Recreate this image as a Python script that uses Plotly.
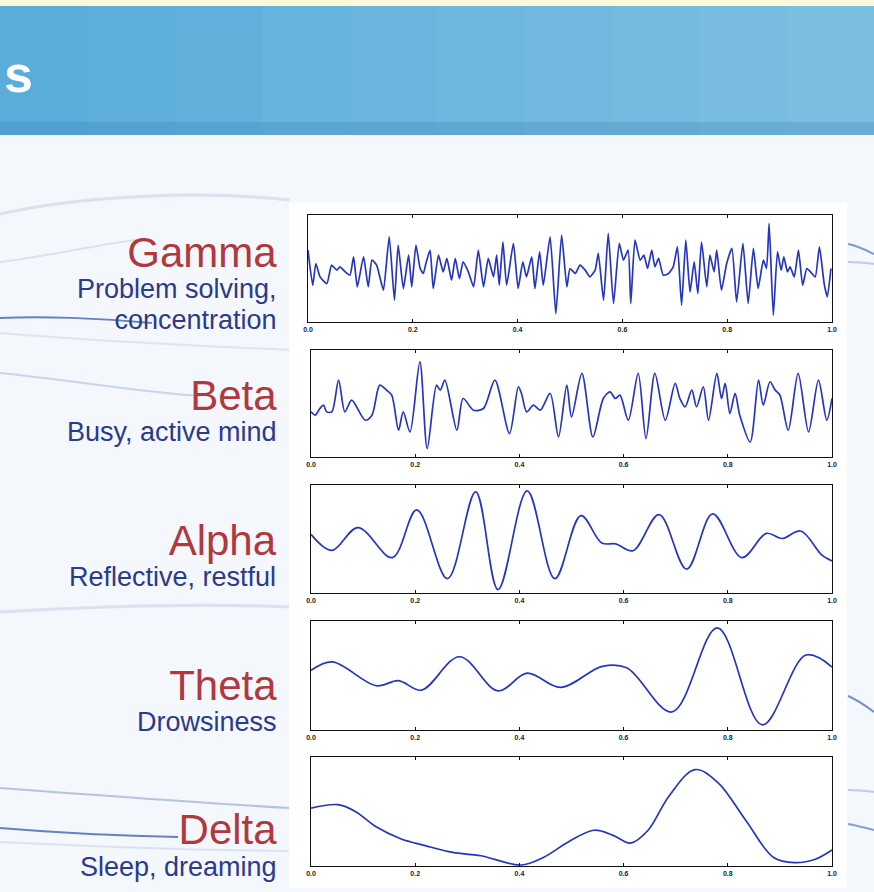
import plotly.graph_objects as go

W, H = 874, 892

# ---------------- data ----------------
tick_vals = [0.0, 0.2, 0.4, 0.6, 0.8, 1.0]
tick_text = ["0.0", "0.2", "0.4", "0.6", "0.8", "1.0"]

band_names = ["Gamma", "Beta", "Alpha", "Theta", "Delta"]
band_notes = [["Problem solving,", "concentration"], ["Busy, active mind"],
              ["Reflective, restful"], ["Drowsiness"], ["Sleep, dreaming"]]

gamma_t = [0.000, 0.009, 0.015, 0.023, 0.036, 0.045, 0.055, 0.061, 0.071, 0.080, 0.087, 0.094, 0.106, 0.115,
           0.122, 0.131, 0.137, 0.144, 0.155, 0.165, 0.172, 0.182, 0.192, 0.198, 0.206, 0.214, 0.220, 0.225,
           0.233, 0.239, 0.249, 0.258, 0.265, 0.274, 0.281, 0.289, 0.296, 0.306, 0.316, 0.325, 0.335, 0.344,
           0.354, 0.360, 0.365, 0.372, 0.379, 0.392, 0.401, 0.410, 0.417, 0.427, 0.433, 0.442, 0.449, 0.462,
           0.473, 0.484, 0.494, 0.500, 0.510, 0.519, 0.529, 0.538, 0.548, 0.554, 0.564, 0.573, 0.583, 0.594,
           0.602, 0.611, 0.616, 0.624, 0.634, 0.641, 0.648, 0.656, 0.662, 0.669, 0.678, 0.688, 0.697, 0.705,
           0.713, 0.721, 0.729, 0.737, 0.744, 0.751, 0.761, 0.767, 0.775, 0.780, 0.789, 0.799, 0.809, 0.818,
           0.830, 0.840, 0.850, 0.859, 0.869, 0.875, 0.880, 0.888, 0.896, 0.903, 0.908, 0.915, 0.920, 0.928,
           0.936, 0.944, 0.952, 0.959, 0.968, 0.976, 0.985, 0.991, 0.998]
gamma_v = [65, -40, 25, -15, -35, 20, 5, 15, 0, -10, 45, -45, 45, -45,
           35, 20, -15, -55, 105, -85, 80, -50, 50, -45, 80, 10, -5, 25,
           65, -50, 50, 0, 40, -25, 40, -20, 30, 0, -45, 65, -45, 40,
           -15, 50, -40, 90, -40, 85, -50, 30, -15, 45, -50, 60, -40, 105,
           -125, 110, -45, 10, -5, 20, 5, -15, 5, 55, -85, 115, -95, 85,
           35, 65, -95, 95, 35, 50, 10, 65, 15, 40, -10, -5, 15, 75,
           -100, 95, -60, 30, -65, 90, -45, 50, 0, 65, -55, 25, 70, -90,
           85, -95, 70, -50, 35, 10, 145, -130, 60, 5, 45, 0, 15, -15,
           65, -40, 10, 0, -15, 75, -35, -75, 10]

beta_t = [0.000, 0.008, 0.017, 0.024, 0.030, 0.040, 0.053, 0.065, 0.078, 0.104, 0.117, 0.132, 0.145, 0.155,
          0.168, 0.177, 0.190, 0.209, 0.223, 0.241, 0.248, 0.257, 0.280, 0.292, 0.312, 0.331, 0.353, 0.381,
          0.398, 0.404, 0.414, 0.427, 0.440, 0.459, 0.475, 0.491, 0.500, 0.520, 0.541, 0.561, 0.574, 0.584,
          0.593, 0.609, 0.628, 0.643, 0.660, 0.680, 0.699, 0.708, 0.718, 0.731, 0.740, 0.753, 0.763, 0.779,
          0.788, 0.795, 0.804, 0.814, 0.823, 0.843, 0.859, 0.868, 0.881, 0.891, 0.900, 0.916, 0.935, 0.955,
          0.974, 0.990, 1.000]
beta_v = [-5, -15, 5, 15, -5, -5, 90, -5, 30, -30, -15, 75, 60, 45,
          -60, -5, -65, 145, -115, 75, 60, 90, -60, 35, 0, 5, 90, -70,
          70, 50, -5, 15, 0, 50, -80, 75, -20, 110, -80, 35, 55, 35,
          45, -30, 110, -85, 110, -30, 80, 35, 10, 60, 10, 70, -30, 110,
          35, 80, -10, 50, -15, -95, 90, 15, 85, 60, 45, -60, 110, -65,
          90, -30, 35]

alpha_t = [0.0, 0.040, 0.090, 0.156, 0.203, 0.262, 0.316, 0.359, 0.415, 0.468, 0.518, 0.558,
           0.585, 0.618, 0.668, 0.721, 0.771, 0.827, 0.874, 0.904, 0.940, 0.980, 1.0]
alpha_v = [20, -27, 40, -48, 92, -110, 145, -142, 148, -110, 75, -5,
           -8, -28, 78, -82, 80, -48, 23, 8, 30, -40, -58]

theta_t = [0.0, 0.041, 0.125, 0.168, 0.212, 0.285, 0.359, 0.415, 0.479, 0.559, 0.606, 0.693,
           0.780, 0.866, 0.950, 1.0]
theta_v = [15, 40, -30, -15, -43, 55, -45, 7, -35, 27, 23, -107, 140, -145, 60, 25]

delta_t = [0.0, 0.052, 0.085, 0.125, 0.172, 0.219, 0.272, 0.326, 0.403, 0.446, 0.493, 0.543,
           0.580, 0.613, 0.647, 0.687, 0.737, 0.781, 0.834, 0.888, 0.928, 0.968, 1.0]
delta_v = [15, 25, 5, -40, -75, -95, -115, -125, -152, -130, -85, -50,
           -65, -88, -50, 50, 128, 90, -20, -130, -145, -135, -108]

series_t = [gamma_t, beta_t, alpha_t, theta_t, delta_t]
series_v = [gamma_v, beta_v, alpha_v, theta_v, delta_v]
y_ranges = [[-150, 170], [-140, 180], [-152, 165], [-160, 160], [-155, 165]]
smooth = [0.5, 0.8, 1.0, 1.0, 1.0]

# ---------------- layout geometry (pixels) ----------------
panel_left = [308, 311, 311, 311, 311]
panel_right = 832
panel_top = [215, 350, 485, 621, 757]
panel_bottom = [322, 457, 593, 730, 866]
label_top = [227, 370, 515, 660, 804]       # top of each label block
line_em = [24, 24, 24, 24, 24.5]            # base size setting the line spacing
text_right = 279
TITLE_COL, NOTE_COL = "#b0393e", "#2c3a8c"


def px(x):
    return x / W


def py(y):
    return 1 - y / H


fig = go.Figure()
layout = dict(
    width=W, height=H,
    margin=dict(l=0, r=0, t=0, b=0, pad=0, autoexpand=False),
    paper_bgcolor="#f4f7fb",
    plot_bgcolor="white",
    showlegend=False,
    font=dict(family="Liberation Sans, Arial, sans-serif"),
)

for i in range(5):
    k = "" if i == 0 else str(i + 1)
    fig.add_trace(go.Scatter(
        x=series_t[i], y=series_v[i], mode="lines",
        xaxis="x" + k, yaxis="y" + k,
        line=dict(color="#2636bc", width=1.7, shape="spline", smoothing=smooth[i]),
        hoverinfo="skip",
    ))
    layout["xaxis" + k] = dict(
        domain=[px(panel_left[i]), px(panel_right)], anchor="y" + k,
        range=[0, 1], tickmode="array", tickvals=tick_vals, ticktext=tick_text,
        showgrid=False, zeroline=False, showline=True, linecolor="#111", linewidth=1.3,
        mirror="ticks", ticks="inside", ticklen=3, tickcolor="#111", tickwidth=1,
        tickfont=dict(size=7, color="#222", weight="bold"), automargin=False,
    )
    layout["yaxis" + k] = dict(
        domain=[py(panel_bottom[i]), py(panel_top[i])], anchor="x" + k,
        range=y_ranges[i], showgrid=False, zeroline=False, showticklabels=False,
        showline=True, linecolor="#111", linewidth=1.3, mirror=True, ticks="", automargin=False,
    )

fig.update_layout(**layout)

shapes = []
# page header: pale strip and blue band
shapes.append(dict(type="rect", xref="paper", yref="paper", x0=0, x1=1, y0=py(6), y1=1,
                   fillcolor="#fdf8d9", line_width=0, layer="below"))
band_cols = ["#5aacdb", "#5eaedc", "#62b1dd", "#66b3de", "#6ab5de", "#6eb7df",
             "#72b9df", "#75bbdf", "#78bde0", "#7bbfe0"]
nb = len(band_cols)
for j, c in enumerate(band_cols):
    shapes.append(dict(type="rect", xref="paper", yref="paper", x0=j / nb, x1=(j + 1) / nb + 0.002,
                       y0=py(135), y1=py(6), fillcolor=c, line_width=0, layer="below"))
shapes.append(dict(type="rect", xref="paper", yref="paper", x0=0, x1=1, y0=py(135), y1=py(122),
                   fillcolor="#3f86bb", opacity=0.3, line_width=0, layer="below"))

# faint decorative swirl lines of the slide background
swirls = [
    ((0, 214), (80, 196), (200, 190), (290, 200), "rgba(150,172,212,0.28)", 3),
    ((0, 262), (50, 256), (90, 246), (135, 240), "rgba(150,172,212,0.28)", 2),
    ((0, 318), (40, 316), (100, 318), (152, 323), "rgba(40,80,165,0.7)", 2),
    ((0, 333), (80, 340), (200, 346), (290, 350), "rgba(160,180,218,0.28)", 2),
    ((0, 373), (70, 380), (140, 392), (200, 396), "rgba(130,158,208,0.38)", 2),
    ((0, 612), (100, 606), (200, 603), (290, 607), "rgba(160,180,218,0.3)", 3),
    ((0, 788), (80, 794), (200, 803), (290, 808), "rgba(100,132,192,0.45)", 2),
    ((0, 828), (60, 833), (120, 836), (178, 837), "rgba(40,80,165,0.7)", 2),
    ((0, 842), (80, 846), (180, 850), (290, 851), "rgba(160,180,218,0.3)", 2),
    ((848, 244), (858, 246), (866, 250), (874, 254), "rgba(60,100,175,0.65)", 2),
    ((848, 262), (858, 262), (866, 263), (874, 264), "rgba(120,150,205,0.45)", 2),
    ((848, 696), (858, 700), (866, 706), (874, 712), "rgba(50,90,170,0.65)", 2),
    ((848, 790), (858, 790), (866, 791), (874, 792), "rgba(120,150,205,0.45)", 2),
    ((848, 824), (858, 826), (866, 828), (874, 830), "rgba(60,100,175,0.6)", 2),
]
for p0, p1, p2, p3, col, wd in swirls:
    path = "M {},{} C {},{} {},{} {},{}".format(px(p0[0]), py(p0[1]), px(p1[0]), py(p1[1]),
                                               px(p2[0]), py(p2[1]), px(p3[0]), py(p3[1]))
    shapes.append(dict(type="path", xref="paper", yref="paper", path=path,
                       line=dict(color=col, width=wd), layer="below"))

# white figure area behind the wave panels
shapes.append(dict(type="rect", xref="paper", yref="paper", x0=px(289), x1=px(847), y0=py(888), y1=py(203),
                   fillcolor="white", line_width=0, layer="below"))

annotations = [dict(text="<b>s</b>", xref="paper", yref="paper", x=px(2), y=py(74),
                    xanchor="left", yanchor="middle", showarrow=False,
                    font=dict(size=52, color="white", family="Liberation Sans, Arial"))]
for i in range(5):
    parts = ["<span style='font-size:42px;color:{}'>{}</span>".format(TITLE_COL, band_names[i])]
    for line_text in band_notes[i]:
        parts.append("<span style='font-size:27px;color:{}'>{}</span>".format(NOTE_COL, line_text))
    annotations.append(dict(text="<br>".join(parts), xref="paper", yref="paper",
                            x=px(text_right), y=py(label_top[i]),
                            xanchor="right", yanchor="top", align="right", showarrow=False,
                            font=dict(size=line_em[i], color=NOTE_COL, family="Liberation Sans, Arial")))

fig.update_layout(shapes=shapes, annotations=annotations)
fig.write_html("out.html", config={"displayModeBar": False},
               post_script="document.body.style.margin='0';document.body.style.overflow='hidden';")
